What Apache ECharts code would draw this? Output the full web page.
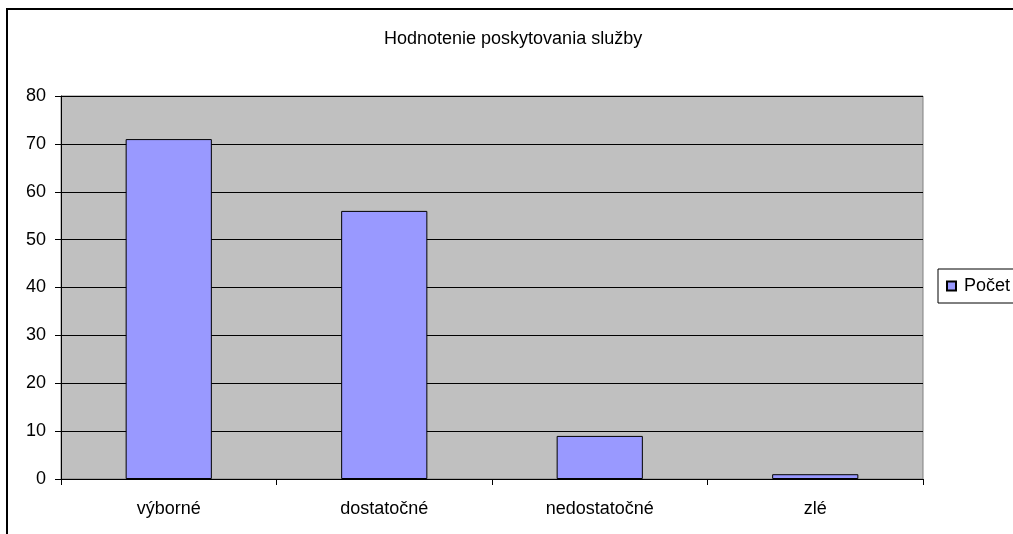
<!DOCTYPE html>
<html>
<head>
<meta charset="utf-8">
<script src="https://cdn.jsdelivr.net/npm/echarts@6/dist/echarts.min.js"></script>
<style>
    html, body { margin: 0; padding: 0; background: #ffffff; }
    #mychart { width: 1013px; height: 534px; }
</style>
</head>
<body>
<div id="mychart"></div>
<script>
    var categories = ['výborné', 'dostatočné', 'nedostatočné', 'zlé'];
    var pocet = [71, 56, 9, 1];
    var seriesName = 'Počet';
    var chartTitle = 'Hodnotenie poskytovania služby';

    var font = 'Liberation Sans, Arial, sans-serif';
    var mychart = echarts.init(document.getElementById('mychart'));
    var option = {
        backgroundColor: '#ffffff',
        animation: false,
        title: {
            text: chartTitle,
            left: 384,
            top: 30,
            padding: 0,
            textStyle: {fontFamily: font, fontSize: 18, fontWeight: 'normal', color: '#000'}
        },
        legend: {
            left: 938,
            top: 269,
            orient: 'vertical',
            itemWidth: 9,
            itemHeight: 9,
            itemGap: 0,
            padding: [8, 40, 8, 8],
            borderColor: '#000',
            borderWidth: 1,
            backgroundColor: '#fff',
            textStyle: {fontFamily: font, fontSize: 18, color: '#000', padding: [0, 0, 0, 3]},
            data: [{name: seriesName, icon: 'rect'}]
        },
        grid: {
            left: 61,
            right: 90,
            top: 96,
            bottom: 55,
            show: true,
            backgroundColor: '#c0c0c0',
            borderColor: '#808080',
            borderWidth: 1
        },
        xAxis: {
            type: 'category',
            data: categories,
            axisLine: {lineStyle: {color: '#000', width: 1}},
            axisTick: {show: true, length: 6, interval: 0, lineStyle: {color: '#000'}},
            axisLabel: {fontFamily: font, fontSize: 18, color: '#000', margin: 21, interval: 0}
        },
        yAxis: {
            type: 'value',
            min: 0,
            max: 80,
            interval: 10,
            axisLine: {show: true, lineStyle: {color: '#000', width: 1}},
            axisTick: {show: true, length: 6, lineStyle: {color: '#000'}},
            axisLabel: {fontFamily: font, fontSize: 18, color: '#000', margin: 15},
            splitLine: {show: true, lineStyle: {color: '#000', width: 1}}
        },
        graphic: [{
            type: 'polyline',
            silent: true,
            shape: {points: [[7, 534], [7, 9], [1013, 9]]},
            style: {stroke: '#000', lineWidth: 2, fill: null}
        }],
        series: [{
            name: seriesName,
            type: 'bar',
            data: pocet,
            barCategoryGap: '60%',
            itemStyle: {color: '#9999ff', borderColor: '#000', borderWidth: 1}
        }]
    };
    mychart.setOption(option);
</script>
</body>
</html>
